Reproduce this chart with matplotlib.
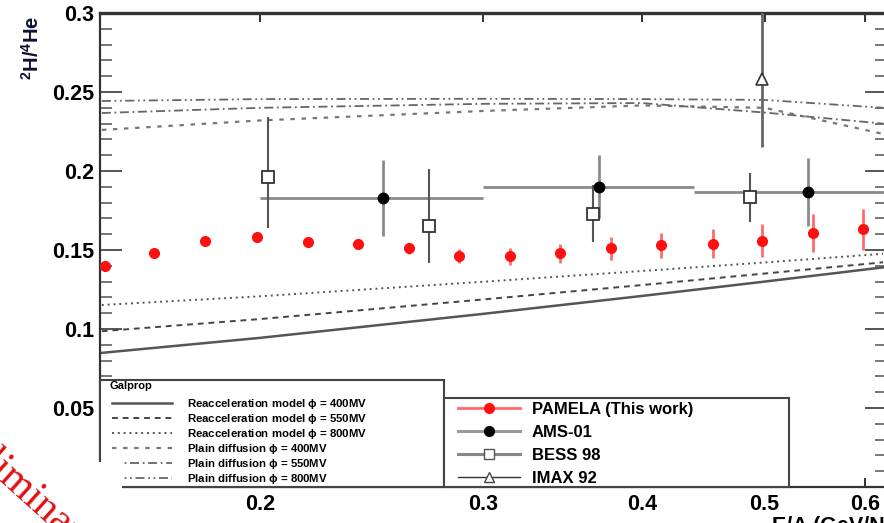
import matplotlib
matplotlib.use("Agg")
import matplotlib.pyplot as plt
from matplotlib.lines import Line2D
from matplotlib.patches import Rectangle
from matplotlib.ticker import FixedLocator, MultipleLocator, NullLocator, NullFormatter

plt.rcParams['font.family'] = ['Liberation Sans', 'DejaVu Sans']
plt.rcParams['mathtext.fontset'] = 'custom'
plt.rcParams['mathtext.rm'] = 'Liberation Sans:bold'
plt.rcParams['mathtext.bf'] = 'Liberation Sans:bold'
plt.rcParams['mathtext.it'] = 'Liberation Sans:bold'

# ---- PAMELA 2H/4He ratio ----
pamela_e = [0.151, 0.165, 0.181, 0.199, 0.218, 0.239, 0.262, 0.287,
            0.315, 0.345, 0.378, 0.414, 0.455, 0.498, 0.546, 0.598]
pamela_r = [0.140, 0.148, 0.156, 0.158, 0.155, 0.154, 0.151, 0.146,
            0.146, 0.148, 0.151, 0.153, 0.154, 0.156, 0.161, 0.163]
pamela_err = [0.003, 0.002, 0.003, 0.003, 0.003, 0.003, 0.0035, 0.0045,
              0.0055, 0.006, 0.0075, 0.008, 0.009, 0.0105, 0.012, 0.013]

# ---- AMS-01 ----
ams_e = [0.250, 0.370, 0.541]
ams_r = [0.183, 0.190, 0.187]
ams_err = [0.024, 0.020, 0.0215]
ams_bin_lo = [0.20, 0.30, 0.44]
ams_bin_hi = [0.30, 0.44, 0.70]

# ---- BESS 98 ----
bess_e = [0.203, 0.272, 0.366, 0.487]
bess_r = [0.196, 0.165, 0.173, 0.1835]
bess_err_lo = [0.032, 0.023, 0.018, 0.016]
bess_err_hi = [0.038, 0.036, 0.018, 0.015]

# ---- IMAX 92 ----
imax_e = [0.498]
imax_r = [0.258]
imax_err = [0.043]

# ---- Galprop model curves ----
model_e = [0.15, 0.20, 0.30, 0.40, 0.50, 0.62]
reac_400 = [0.0849, 0.0944, 0.1096, 0.1209, 0.1300, 0.1390]
reac_550 = [0.0986, 0.1063, 0.1187, 0.1278, 0.1351, 0.1422]
reac_800 = [0.1152, 0.1207, 0.1299, 0.1367, 0.1421, 0.1476]
plain_400 = [0.2260, 0.2320, 0.2380, 0.2415, 0.2400, 0.2235]
plain_550 = [0.2367, 0.2400, 0.2425, 0.2430, 0.2370, 0.2300]
plain_800 = [0.2443, 0.2455, 0.2457, 0.2455, 0.2450, 0.2400]

model_title = 'Galprop'
model_labels = [r'Reacceleration model $\phi$ = 400MV',
                r'Reacceleration model $\phi$ = 550MV',
                r'Reacceleration model $\phi$ = 800MV',
                r'Plain diffusion $\phi$ = 400MV',
                r'Plain diffusion $\phi$ = 550MV',
                r'Plain diffusion $\phi$ = 800MV']
data_labels = ['PAMELA (This work)', 'AMS-01', 'BESS 98', 'IMAX 92']

xtick_vals = [0.2, 0.3, 0.4, 0.5, 0.6]
xtick_labels = ['0.2', '0.3', '0.4', '0.5', '0.6']
ytick_vals = [0.05, 0.10, 0.15, 0.20, 0.25, 0.30]
ytick_labels = ['0.05', '0.1', '0.15', '0.2', '0.25', '0.3']

W, H = 884, 523
fig = plt.figure(figsize=(W / 100, H / 100), dpi=100)
ax = fig.add_axes([100 / W, 1 - 487 / H, 787 / W, 474 / H])
ax.set_xscale('log')
ax.set_xlim(0.1495, 0.6245)
ax.set_ylim(0.0, 0.3)

# model curves
l1, = ax.plot(model_e, reac_400, color='#555555', lw=1.8, ls='-')
l2, = ax.plot(model_e, reac_550, color='#444444', lw=1.4, ls=(0, (3, 2.5)))
l3, = ax.plot(model_e, reac_800, color='#555555', lw=1.4, ls=(0, (1, 2)))
l4, = ax.plot(model_e, plain_400, color='#777777', lw=1.6, ls=(0, (2, 3)))
l5, = ax.plot(model_e, plain_550, color='#666666', lw=1.3, ls=(0, (5, 2, 1, 2)))
l6, = ax.plot(model_e, plain_800, color='#666666', lw=1.3, ls=(0, (5, 2, 1, 2, 1, 2)))

# AMS-01
ams_xlo = [e - lo for e, lo in zip(ams_e, ams_bin_lo)]
ams_xhi = [hi - e for e, hi in zip(ams_e, ams_bin_hi)]
ax.errorbar(ams_e, ams_r, yerr=ams_err, xerr=[ams_xlo, ams_xhi], fmt='none',
            ecolor='#8a8a8a', elinewidth=2.0, capsize=0, zorder=3)
ax.plot(ams_e, ams_r, 'o', color='black', ms=7.5, zorder=5)

# BESS 98
ax.errorbar(bess_e, bess_r, yerr=[bess_err_lo, bess_err_hi], fmt='none',
            ecolor='#555555', elinewidth=1.5, capsize=0, zorder=3)
ax.plot(bess_e, bess_r, 's', mfc='white', mec='#333333', mew=1.3, ms=8, zorder=5)

# IMAX 92
ax.errorbar(imax_e, imax_r, yerr=imax_err, fmt='none', ecolor='#666666',
            elinewidth=2.0, capsize=0, zorder=3)
ax.plot(imax_e, imax_r, '^', mfc='white', mec='#333333', mew=1.2, ms=8, zorder=5)

# PAMELA
ax.errorbar(pamela_e, pamela_r, yerr=pamela_err, fmt='none', ecolor='#ff6a6a',
            elinewidth=2.0, capsize=0, zorder=4)
ax.plot(pamela_e, pamela_r, 'o', color='#ff1010', ms=7, zorder=6)

# axes styling
for s in ax.spines.values():
    s.set_linewidth(1.6)
    s.set_color('#333333')
ax.spines['top'].set_linewidth(2.4)
ax.xaxis.set_major_locator(FixedLocator(xtick_vals))
ax.xaxis.set_minor_locator(NullLocator())
ax.xaxis.set_minor_formatter(NullFormatter())
ax.set_xticks(xtick_vals, xtick_labels)
ax.set_yticks(ytick_vals, ytick_labels)
ax.yaxis.set_minor_locator(MultipleLocator(0.01))
ax.tick_params(which='both', direction='in', top=True, right=True)
ax.tick_params(axis='x', which='major', length=6.5, width=1.4, color='#333333',
               labelsize=15.5, pad=5)
ax.tick_params(axis='y', which='major', length=16, width=1.4, color='#555555',
               labelsize=15.5, pad=4)
ax.tick_params(axis='y', which='minor', length=8.5, width=1.4, color='#777777')
for lab in ax.get_xticklabels() + ax.get_yticklabels():
    lab.set_fontweight('bold')

# legend boxes
fig.patches.append(Rectangle((100 / W, 1 - 487 / H), 344 / W, 107 / H,
                             transform=fig.transFigure, facecolor='white',
                             edgecolor='#444444', lw=1.5, zorder=4))
fig.patches.append(Rectangle((444 / W, 1 - 487 / H), 345 / W, 89 / H,
                             transform=fig.transFigure, facecolor='white',
                             edgecolor='#444444', lw=1.5, zorder=4))

fig.text(109 / W, 1 - 386 / H, model_title, ha='left', va='center',
         fontsize=8, fontweight='bold', zorder=5)
leg1 = fig.legend([l1, l2, l3, l4, l5, l6], model_labels, loc='upper left',
                  bbox_to_anchor=(112 / W, 1 - 397 / H), frameon=False,
                  prop={'size': 8.2, 'weight': 'bold'},
                  handlelength=5.3, handletextpad=1.3,
                  labelspacing=0.09, borderpad=0, borderaxespad=0)
leg1.set_zorder(5)

h_pam = Line2D([], [], color='#ff6a6a', lw=2, marker='o', mfc='#ff1010',
               mec='#ff1010', ms=7)
h_ams = Line2D([], [], color='#9a9a9a', lw=2.2, marker='o', mfc='black',
               mec='black', ms=7)
h_bess = Line2D([], [], color='#888888', lw=2.2, marker='s', mfc='white',
                mec='#555555', ms=7)
h_imax = Line2D([], [], color='#333333', lw=1.0, marker='^', mfc='white',
                mec='#444444', ms=7)
leg2 = fig.legend([h_pam, h_ams, h_bess, h_imax], data_labels, loc='upper left',
                  bbox_to_anchor=(458 / W, 1 - 402 / H), frameon=False,
                  prop={'size': 12, 'weight': 'bold'}, handlelength=3.7,
                  handletextpad=0.72, labelspacing=0.48, borderpad=0,
                  borderaxespad=0)
leg2.set_zorder(5)

# white corner below the left axis
fig.patches.append(Rectangle((95 / W, 1 - 492 / H), 27 / W, 30 / H,
                             transform=fig.transFigure, facecolor='white',
                             edgecolor='none', zorder=6))

# axis titles
fig.text(32 / W, 1 - 48 / H, r'$^{2}$H/$^{4}$He', rotation=90, ha='center',
         va='center', fontsize=14.5, fontweight='bold', color='#111133')
fig.text(772 / W, 1 - 532 / H, 'E/A (GeV/N)', ha='left', va='baseline',
         fontsize=15.5, fontweight='bold')

# watermark
fig.text(-60 / W, 1 - 428 / H, 'Preliminary', color='#e01010', fontsize=30,
         family='Liberation Serif', rotation=-42, rotation_mode='anchor',
         ha='left', va='baseline', zorder=7)

fig.savefig('out.png', dpi=100)
